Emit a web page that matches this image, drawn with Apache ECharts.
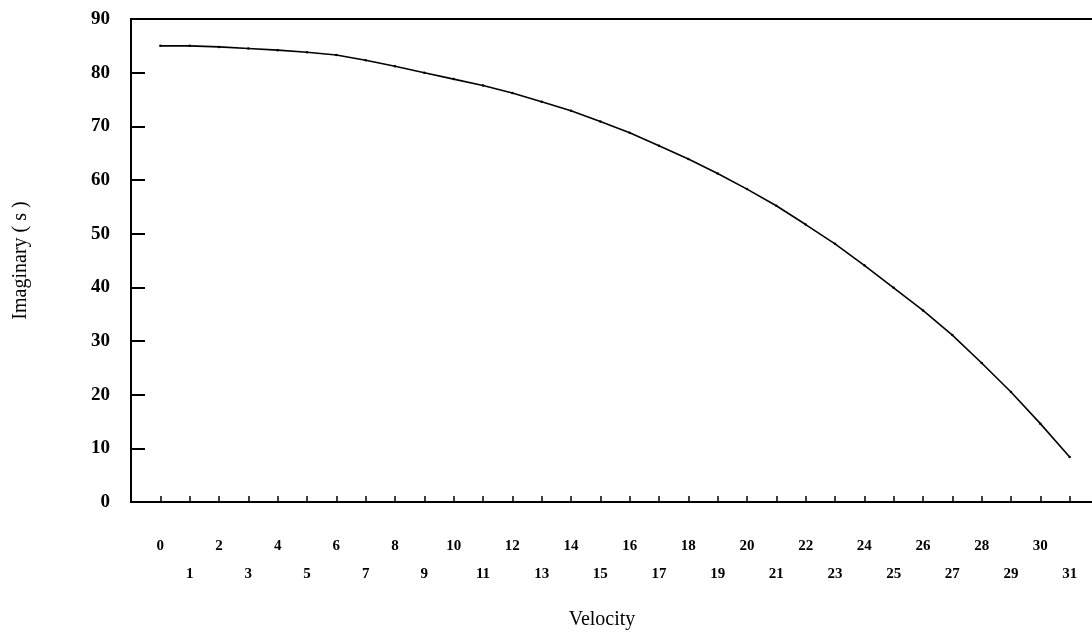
<!DOCTYPE html>
<html>
<head>
<meta charset="utf-8">
<title>Imaginary part vs Velocity</title>
<script src="https://cdn.jsdelivr.net/npm/echarts@6/dist/echarts.min.js"></script>
<style>
  html, body { margin: 0; padding: 0; background: #fff; }
  #chart { width: 1092px; height: 635px; }
</style>
</head>
<body>
<div id="chart"></div>
<script>
// Velocity steps along the horizontal axis
const velocity = [0, 1, 2, 3, 4, 5, 6, 7, 8, 9, 10, 11, 12, 13, 14, 15,
                  16, 17, 18, 19, 20, 21, 22, 23, 24, 25, 26, 27, 28, 29, 30, 31];
// Imaginary part of the eigenvalue (s) at each velocity
const imaginary = [85.0, 85.0, 84.8, 84.5, 84.2, 83.8, 83.3, 82.3, 81.2, 80.0,
                   78.8, 77.6, 76.2, 74.6, 72.9, 70.9, 68.8, 66.4, 63.9, 61.2,
                   58.3, 55.2, 51.7, 48.1, 44.1, 39.9, 35.7, 31.1, 25.9, 20.5,
                   14.6, 8.4];
// Vertical tick values
const yTicks = [0, 10, 20, 30, 40, 50, 60, 70, 80, 90];

const points = velocity.map((v, i) => [v, imaginary[i]]);
const serif = '"Liberation Serif", "DejaVu Serif", serif';

const chart = echarts.init(document.getElementById('chart'));
chart.setOption({
  backgroundColor: '#ffffff',
  animation: false,
  grid: {
    left: 131, top: 19, right: -7, bottom: 133,
    outerBoundsMode: 'none',
    containLabel: false,
    show: true, borderColor: '#000', borderWidth: 2, backgroundColor: 'transparent'
  },
  xAxis: {
    type: 'value',
    min: -1, max: 32, interval: 1,
    name: 'Velocity',
    nameLocation: 'middle',
    nameGap: 108,
    nameTextStyle: { fontFamily: serif, fontSize: 20, color: '#000', padding: [0, 26, 0, 0] },
    axisLine: { onZero: false, lineStyle: { color: '#000', width: 2 } },
    axisTick: { inside: true, length: 6, lineStyle: { color: '#000', width: 1.5 } },
    splitLine: { show: false },
    axisLabel: {
      margin: 30,
      fontFamily: serif, fontWeight: 'bold', fontSize: 15, color: '#000',
      lineHeight: 28, verticalAlign: 'top',
      formatter: function (v) {
        if (v < velocity[0] || v > velocity[velocity.length - 1]) return '';
        return v % 2 === 0 ? v + '\n ' : ' \n' + v;
      }
    }
  },
  yAxis: {
    type: 'value',
    min: yTicks[0], max: yTicks[yTicks.length - 1], interval: 10,
    name: 'Imaginary ( s )',
    nameLocation: 'middle',
    nameGap: 100,
    nameTextStyle: { fontFamily: serif, fontSize: 20, color: '#000' },
    axisLine: { show: true, onZero: false, lineStyle: { color: '#000', width: 2 } },
    axisTick: { show: true, inside: true, length: 14, lineStyle: { color: '#000', width: 2 } },
    splitLine: { show: false },
    axisLabel: {
      margin: 21,
      fontFamily: serif, fontWeight: 'bold', fontSize: 19, color: '#000'
    }
  },
  series: [{
    type: 'line',
    data: points,
    smooth: false,
    symbol: 'circle',
    symbolSize: 2.5,
    itemStyle: { color: '#000' },
    lineStyle: { color: '#000', width: 1.6 }
  }]
});
</script>
</body>
</html>
